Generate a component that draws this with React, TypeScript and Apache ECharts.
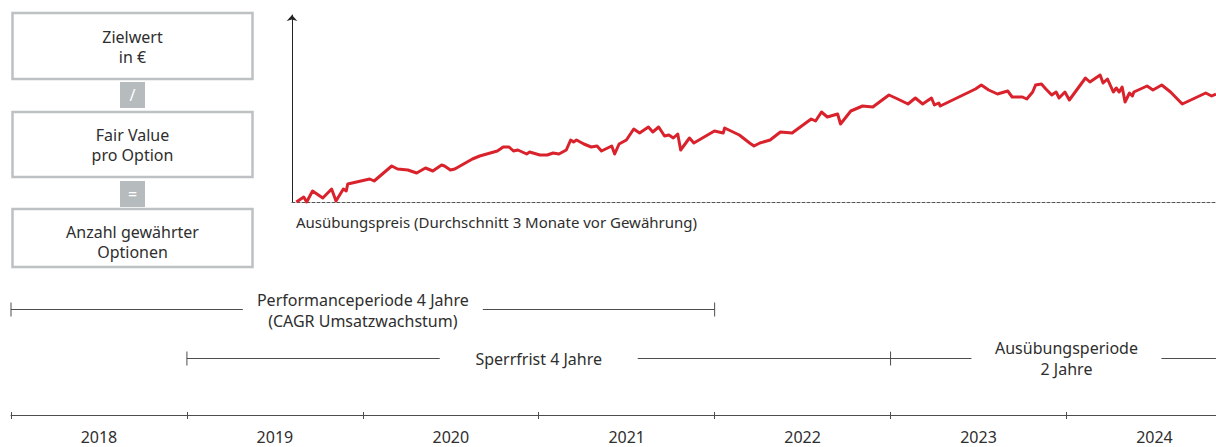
import React, { useEffect, useRef } from "react";
import * as echarts from "echarts";

// Kursverlauf: Monate nach Gewährung / Abstand über dem Ausübungspreis
const months = [
  0.3, 0.8, 1.0, 1.4, 2.1, 2.7, 3.0, 3.5, 3.7, 3.8,
  5.3, 5.6, 6.8, 7.2, 7.9, 8.5, 9.1, 9.6, 10.2, 10.4,
  10.8, 11.1, 12.3, 12.8, 14.0, 14.4, 14.8, 15.1, 15.4, 16.0,
  16.2, 16.9, 17.4, 17.8, 18.2, 18.7, 19.0, 19.2, 19.4, 19.9,
  20.4, 20.8, 21.1, 21.8, 22.0, 22.3, 22.8, 23.3, 23.7, 24.3,
  24.6, 25.0, 25.4, 25.7, 26.0, 26.3, 26.5, 27.1, 27.4, 28.8,
  29.4, 29.5, 30.5, 31.2, 31.5, 31.9, 32.6, 33.3, 34.1, 35.4,
  35.7, 36.1, 36.5, 37.2, 37.4, 38.1, 38.9, 39.6, 40.7, 41.3,
  42.0, 42.5, 43.0, 43.6, 43.8, 44.1, 44.2, 46.6, 47.0, 47.5,
  48.1, 48.8, 49.1, 49.8, 50.1, 50.5, 50.7, 51.1, 51.4, 51.8,
  52.1, 52.3, 52.7, 53.0, 54.1, 54.4, 55.1, 55.3, 55.6, 56.0,
  56.2, 56.4, 56.6, 56.8, 57.1, 57.3, 57.4, 58.3, 58.7, 59.3,
  59.9, 60.7, 62.3, 62.7, 63.0,
];
const priceValues = [
  0, 5, 0, 11, 4, 13, 1, 13, 11, 18,
  23, 21, 36, 33, 32, 29, 34, 31, 37, 36,
  32, 33, 43, 46, 51, 55, 55, 51, 52, 48,
  50, 47, 47, 49, 48, 52, 62, 60, 62, 58,
  55, 56, 51, 56, 48, 58, 62, 73, 69, 75,
  70, 75, 66, 67, 64, 68, 52, 64, 59, 71,
  69, 74, 67, 59, 56, 59, 62, 70, 69, 83,
  81, 90, 85, 88, 78, 91, 96, 95, 107, 103,
  98, 104, 98, 104, 97, 99, 96, 113, 117, 112,
  108, 111, 105, 105, 103, 110, 117, 118, 113, 107,
  110, 104, 110, 102, 124, 120, 127, 119, 123, 110,
  114, 110, 115, 100, 109, 106, 110, 116, 112, 117,
  110, 98, 109, 106, 108,
];

const yearTicks = [2018, 2019, 2020, 2021, 2022, 2023, 2024];
const yearLabelPositions = [2018.5, 2019.5, 2020.5, 2021.5, 2022.5, 2023.5, 2024.5];

const periodNames = [
  "Performanceperiode 4 Jahre\n(CAGR Umsatzwachstum)",
  "Sperrfrist 4 Jahre",
  "Ausübungsperiode\n2 Jahre",
];
const periodStart = [2018, 2019, 2023];
const periodEnd = [2022, 2023, 2025];

const formulaBoxes = ["Zielwert\nin €", "Fair Value\npro Option", "Anzahl gewährter\nOptionen"];
const formulaOperators = ["/", "="];

const baselineLabel = "Ausübungspreis (Durchschnitt 3 Monate vor Gewährung)";

// layout (px)
const periodRow = [106, 57.5, 57.5];
const periodGapHalf = [120, 99, 95];
const periodStartOffset = [0, 0, -15];
const periodStartTick = [true, true, false];
const periodEndTick = [true, true, false];
const periodTextDy = [1, 0, 0];
const boxTop = [13, 112, 209];
const boxHeight = [66, 65, 58];
const boxTextY = [47, 144.5, 242];
const opTop = [82, 181];

const FONT = '"Noto Sans", sans-serif';
const FS = 16;
const TEXT = "#2e2e2e";
const LINE = "#4d4d4d";

export default function App() {
  const ref = useRef<HTMLDivElement>(null);
  useEffect(() => {
    if (!ref.current) return;
    const chart = echarts.init(ref.current, undefined, { renderer: "svg" });

    const graphics: any[] = [];
    formulaBoxes.forEach((t, i) => {
      graphics.push({
        type: "rect",
        shape: { x: 12.5, y: boxTop[i], width: 240, height: boxHeight[i] },
        style: { fill: "#ffffff", stroke: "#bdc1c3", lineWidth: 2.5 },
      });
      graphics.push({
        type: "text",
        x: 132.5,
        y: boxTextY[i],
        style: {
          text: t,
          align: "center",
          verticalAlign: "middle",
          fill: TEXT,
          fontSize: FS,
          fontFamily: FONT,
          lineHeight: 20,
        },
      });
    });
    formulaOperators.forEach((t, i) => {
      graphics.push({
        type: "rect",
        shape: { x: 120, y: opTop[i], width: 25, height: 26 },
        style: { fill: "#b6bbbe" },
      });
      graphics.push({
        type: "text",
        x: 132.5,
        y: opTop[i] + 13,
        style: {
          text: t,
          align: "center",
          verticalAlign: "middle",
          fill: "#ffffff",
          fontSize: FS,
          fontFamily: FONT,
        },
      });
    });
    graphics.push({
      type: "text",
      x: 296,
      y: 222,
      style: {
        text: baselineLabel,
        align: "left",
        verticalAlign: "middle",
        fill: TEXT,
        fontSize: 15,
        fontFamily: FONT,
      },
    });

    const option: any = {
      animation: false,
      textStyle: { fontFamily: FONT },
      graphic: graphics,
      grid: [
        { left: 292, top: 15, right: 0, height: 187 },
        { left: 11, top: 290, right: 0, height: 125 },
      ],
      xAxis: [
        {
          type: "value",
          gridIndex: 0,
          min: 0,
          max: 63,
          axisLine: { show: true, lineStyle: { color: "#555", type: [3, 2], width: 1 } },
          axisTick: { show: false },
          axisLabel: { show: false },
          splitLine: { show: false },
        },
        {
          type: "value",
          gridIndex: 1,
          position: "bottom",
          min: 2018,
          max: 2024.85,
          axisLine: { show: true, lineStyle: { color: LINE, width: 1 } },
          axisTick: { show: true, length: 4, customValues: yearTicks, lineStyle: { color: LINE } },
          axisLabel: {
            fontSize: FS,
            color: TEXT,
            margin: 14,
            fontFamily: FONT,
            customValues: yearLabelPositions,
            formatter: (v: number) => String(Math.floor(v)),
          },
          splitLine: { show: false },
        },
        {
          type: "value",
          gridIndex: 1,
          position: "bottom",
          min: 2018,
          max: 2024.85,
          axisLine: { show: false },
          axisTick: { show: true, inside: true, length: 3, customValues: yearTicks, lineStyle: { color: LINE } },
          axisLabel: { show: false },
          splitLine: { show: false },
        },
      ],
      yAxis: [
        {
          type: "value",
          gridIndex: 0,
          min: 0,
          max: 187,
          axisLine: {
            show: true,
            symbol: ["none", "arrow"],
            symbolSize: [8, 6],
            lineStyle: { color: "#222", width: 1 },
          },
          axisTick: { show: false },
          axisLabel: { show: false },
          splitLine: { show: false },
        },
        {
          type: "value",
          gridIndex: 1,
          min: 0,
          max: 125,
          show: false,
        },
      ],
      series: [
        {
          type: "line",
          xAxisIndex: 0,
          yAxisIndex: 0,
          data: months.map((m, i) => [m, priceValues[i]]),
          symbol: "none",
          clip: false,
          lineStyle: { color: "#d9222b", width: 3, join: "round" },
        },
        {
          type: "custom",
          xAxisIndex: 1,
          yAxisIndex: 1,
          clip: false,
          data: periodStart.map((s, i) => [s, periodEnd[i], i]),
          renderItem: (params: any, api: any) => {
            const s = api.value(0);
            const e = api.value(1);
            const idx = api.value(2);
            const lvl = periodRow[idx];
            const p0 = api.coord([s, lvl]);
            const p1 = api.coord([e, lvl]);
            const mid = (p0[0] + p1[0]) / 2;
            const y = Math.round(p0[1]) + 0.5;
            const ls = { stroke: LINE, lineWidth: 1 };
            const children: any[] = [
              { type: "line", shape: { x1: p0[0] + periodStartOffset[idx], y1: y, x2: mid - periodGapHalf[idx], y2: y }, style: ls },
              { type: "line", shape: { x1: mid + periodGapHalf[idx], y1: y, x2: p1[0], y2: y }, style: ls },
              {
                type: "text",
                x: mid,
                y: y + periodTextDy[idx],
                style: {
                  text: periodNames[idx],
                  align: "center",
                  verticalAlign: "middle",
                  fill: TEXT,
                  fontSize: FS,
                  fontFamily: FONT,
                  lineHeight: 20.5,
                },
              },
            ];
            if (periodStartTick[idx])
              children.push({ type: "line", shape: { x1: p0[0], y1: y - 7, x2: p0[0], y2: y + 7 }, style: ls });
            if (periodEndTick[idx])
              children.push({ type: "line", shape: { x1: p1[0], y1: y - 7, x2: p1[0], y2: y + 7 }, style: ls });
            return { type: "group", children };
          },
        },
      ],
    };
    chart.setOption(option);
    return () => chart.dispose();
  }, []);
  return (
    <div
      ref={ref}
      style={{ position: "absolute", left: 0, top: 0, width: 1216, height: 447, background: "#fff" }}
    />
  );
}
